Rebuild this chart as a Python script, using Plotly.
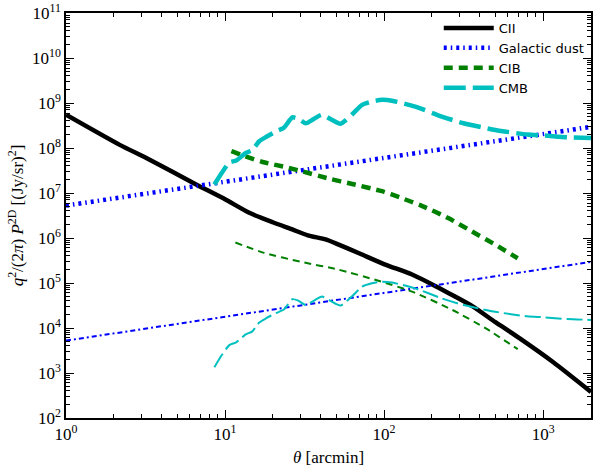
import plotly.graph_objects as go

# ---- data (log10 values) ----
cii_logx = [0.0, 0.338, 0.526, 0.818, 1.0, 1.152, 1.30, 1.423, 1.52, 1.632, 1.711, 1.85, 2.007, 2.176, 2.324, 2.44, 2.557, 2.70, 2.853, 3.064, 3.301]
cii_logy = [8.74, 8.07, 7.74, 7.19, 6.86, 6.56, 6.35, 6.19, 6.06, 5.97, 5.86, 5.65, 5.41, 5.19, 4.93, 4.71, 4.48, 4.13, 3.77, 3.24, 2.58]

dust_logx = [0.0, 0.526, 0.943, 1.40, 2.40, 3.301]
dust_logy = [6.72, 7.00, 7.22, 7.46, 7.99, 8.47]
dust_thin_logy = [3.72, 4.00, 4.22, 4.46, 4.99, 5.47]

cib_logx = [1.04, 1.10, 1.236, 1.40, 1.486, 1.653, 1.80, 1.987, 2.10, 2.24, 2.40, 2.55, 2.70, 2.84]
cib_logy = [7.93, 7.85, 7.69, 7.56, 7.48, 7.32, 7.20, 7.04, 6.90, 6.71, 6.45, 6.15, 5.85, 5.55]
cib_thin_logx = [1.065, 1.245, 1.478, 1.711, 1.964, 2.176, 2.43, 2.64, 2.84]
cib_thin_logy = [5.90, 5.67, 5.47, 5.30, 5.05, 4.81, 4.40, 3.99, 3.53]

cmb_logx = [0.933, 0.98, 1.027, 1.07, 1.13, 1.17, 1.215, 1.26, 1.32, 1.37, 1.423, 1.46, 1.507, 1.56, 1.61, 1.66, 1.726,
            1.80, 1.862, 1.93, 1.987, 2.05, 2.196, 2.362, 2.5, 2.7, 2.9, 3.0, 3.15, 3.301]
cmb_logy = [7.19, 7.45, 7.68, 7.72, 7.89, 7.95, 8.15, 8.25, 8.37, 8.45, 8.68, 8.65, 8.55, 8.65, 8.74, 8.65, 8.54,
            8.75, 8.96, 9.04, 9.07, 9.05, 8.92, 8.70, 8.55, 8.40, 8.30, 8.28, 8.24, 8.22]
cmb_thin_logy = [3.13, 3.40, 3.62, 3.68, 3.86, 3.92, 4.12, 4.22, 4.33, 4.41, 4.64, 4.61, 4.51, 4.61, 4.70, 4.61, 4.50,
                 4.71, 4.92, 5.00, 5.03, 5.01, 4.88, 4.66, 4.51, 4.36, 4.26, 4.24, 4.20, 4.18]

x_tick_exp = [0, 1, 2, 3]
y_tick_exp = [2, 3, 4, 5, 6, 7, 8, 9, 10, 11]

def p10(v):
    return [10 ** a for a in v]

BLUE = "#0000FF"
GREEN = "#008000"
CYAN = "#00BFBF"

fig = go.Figure()
fig.add_trace(go.Scatter(x=p10(cii_logx), y=p10(cii_logy), mode="lines", name="CII",
                         line=dict(color="black", width=4.5, shape="spline", smoothing=0.6)))
fig.add_trace(go.Scatter(x=p10(dust_logx), y=p10(dust_logy), mode="lines", name="Galactic dust",
                         line=dict(color=BLUE, width=4.5, dash="3px,4px,1.5px,4px")))
fig.add_trace(go.Scatter(x=p10(cib_logx), y=p10(cib_logy), mode="lines", name="CIB",
                         line=dict(color=GREEN, width=4.5, dash="9px,6px", shape="spline", smoothing=0.6)))
fig.add_trace(go.Scatter(x=p10(cmb_logx), y=p10(cmb_logy), mode="lines", name="CMB",
                         line=dict(color=CYAN, width=4.5, dash="22px,7px", shape="spline", smoothing=0.6)))
fig.add_trace(go.Scatter(x=p10(dust_logx), y=p10(dust_thin_logy), mode="lines", showlegend=False,
                         line=dict(color=BLUE, width=2, dash="5px,3px,2px,3px")))
fig.add_trace(go.Scatter(x=p10(cib_thin_logx), y=p10(cib_thin_logy), mode="lines", showlegend=False,
                         line=dict(color=GREEN, width=2, dash="7px,5px", shape="spline", smoothing=0.6)))
fig.add_trace(go.Scatter(x=p10(cmb_logx), y=p10(cmb_thin_logy), mode="lines", showlegend=False,
                         line=dict(color=CYAN, width=2, dash="16px,5px", shape="spline", smoothing=0.6)))

serif = "Liberation Serif, DejaVu Serif, serif"

xminor = [m * 10 ** e for e in range(0, 4) for m in range(2, 10) if m * 10 ** e <= 2000]
yminor = [m * 10 ** e for e in range(2, 11) for m in range(2, 10)]

axis_common = dict(type="log", showgrid=False, zeroline=False, showline=True, linecolor="black", linewidth=1.5,
                   mirror="ticks", ticks="inside", ticklen=8, tickwidth=1.2, tickcolor="black",
                   ticklabeloverflow="allow",
                   tickfont=dict(family=serif, size=17, color="black"))

fig.update_xaxes(**axis_common, range=[0, 3.301],
                 tickvals=[10 ** e for e in x_tick_exp],
                 ticktext=[f"10<sup>{e}</sup>" for e in x_tick_exp],
                 minor=dict(tickvals=xminor, ticks="inside", ticklen=4, tickcolor="black", tickwidth=1),
                 title=dict(text="<i>θ</i> [arcmin]", font=dict(family=serif, size=17, color="black"), standoff=8))
fig.update_yaxes(**axis_common, range=[2, 11.0005],
                 tickvals=[10 ** e for e in y_tick_exp],
                 ticktext=[f"10<sup>{e}</sup>" for e in y_tick_exp],
                 minor=dict(tickvals=yminor, ticks="inside", ticklen=4, tickcolor="black", tickwidth=1),
                 title=dict(text="<i>q</i><sup>2</sup>/(2<i>π</i>) <i>P</i><sup>2D</sup> [(Jy/sr)<sup>2</sup>]",
                            font=dict(family=serif, size=17, color="black"), standoff=4))

fig.update_layout(width=594, height=468, margin=dict(l=66, r=1, t=11, b=50),
                  plot_bgcolor="white", paper_bgcolor="white", showlegend=True,
                  legend=dict(x=0.71, y=1.0, xanchor="left", yanchor="top", bgcolor="rgba(0,0,0,0)",
                              font=dict(family="DejaVu Sans, Liberation Sans, sans-serif", size=13, color="black"),
                              tracegroupgap=0, itemwidth=50))

fig.write_html("out.html", config={"displayModeBar": False},
               post_script="document.body.style.margin='0px';document.body.style.overflow='hidden';")
